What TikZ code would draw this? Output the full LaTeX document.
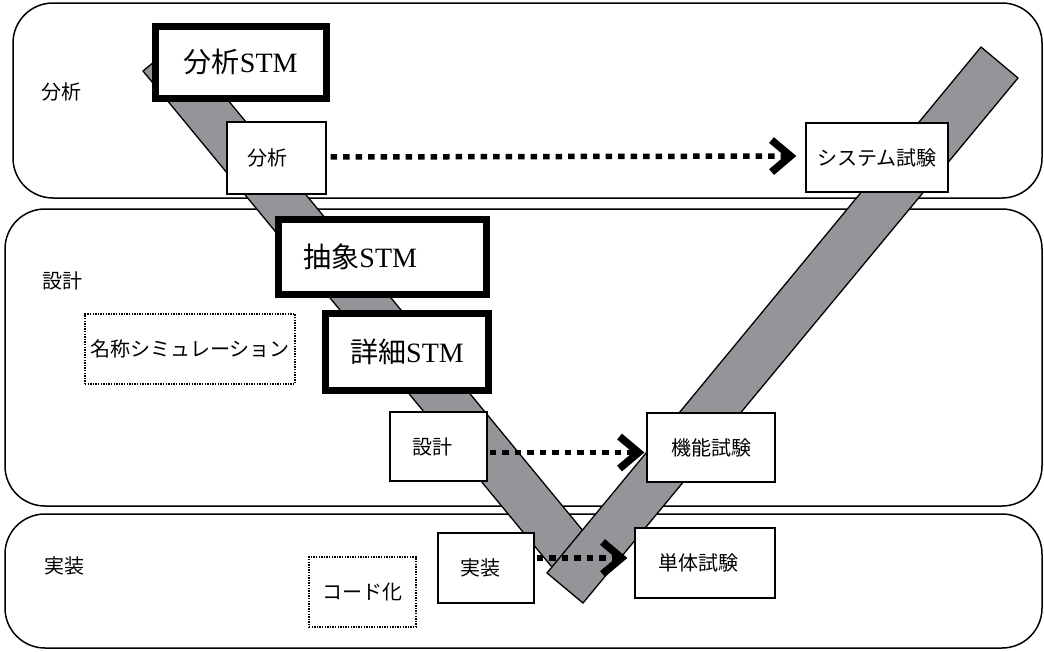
\documentclass[tikz,border=0pt]{standalone}
\usepackage{fontspec}
\setmainfont{Liberation Serif}
\newfontfamily\cjk{Noto Sans CJK JP}
\usetikzlibrary{arrows.meta}
\newcommand\J[1]{{\cjk #1}}
\definecolor{band}{RGB}{147,149,152}
\begin{document}
\begin{tikzpicture}[x=1pt,y=-1pt,
  panel/.style={draw, line width=1.5pt, rounded corners=40pt, fill=white},
  arm/.style={draw, line width=1.3pt, fill=band, line join=miter},
  thickbox/.style={draw, line width=7pt, fill=white, inner sep=0pt, font=\fontsize{28}{30}\selectfont},
  box/.style={draw, line width=1.3pt, fill=white, inner sep=0pt, font=\fontsize{20}{22}\selectfont},
  dotbox/.style={draw, line width=1.4pt, dash pattern=on 1.4pt off 1.2pt, fill=white, inner sep=0pt, font=\fontsize{20}{22}\selectfont},
  plabel/.style={font=\fontsize{20}{22}\selectfont},
  flow/.style={line width=5.5pt, dash pattern=on 6.5pt off 6pt, -{Straight Barb[length=19pt,width=32pt,line width=7.5pt]}}
]
\useasboundingbox (0,0) rectangle (1044,651);
\fill[white] (0,0) rectangle (1044,651);
% panels
\draw[panel] (13,3) rectangle (1042,198);
\draw[panel] (5,209) rectangle (1042,506);
\draw[panel] (5,514) rectangle (1042,648);
\node[plabel] (lA) at (61,92) {\J{分析}};
\node[plabel] (lD) at (62,281) {\J{設計}};
\node[plabel] (lI) at (64,566) {\J{実装}};
% V arms
\draw[arm] (143,71) -- (179.3,41.1) -- (595.9,546.5) -- (559.6,576.4) -- cycle;
\draw[arm] (547,573) -- (583,603) -- (1018,78) -- (981,47) -- cycle;
% STM boxes
\node[thickbox, minimum width=170.5pt, minimum height=71.5pt] (stmA) at (240.75,62.25) {\J{分析}STM};
\node[thickbox, minimum width=207.5pt, minimum height=75pt] (stmB) at (382.25,257) {\hspace*{-44pt}\J{抽象}STM};
\node[thickbox, minimum width=163pt, minimum height=77pt] (stmC) at (407,352) {\J{詳細}STM};
% process boxes
\node[box, minimum width=99pt, minimum height=72pt] (ana) at (276.5,158) {\hspace*{-18pt}\J{分析}};
\node[box, minimum width=142pt, minimum height=69pt] (sys) at (877,157.5) {\J{システム試験}};
\node[box, minimum width=97pt, minimum height=69pt] (des) at (438.5,446.5) {\hspace*{-12pt}\J{設計}};
\node[box, minimum width=128pt, minimum height=69pt] (fun) at (711,447.5) {\J{機能試験}};
\node[box, minimum width=96pt, minimum height=70pt] (imp) at (486,568) {\hspace*{-12pt}\J{実装}};
\node[box, minimum width=140pt, minimum height=70pt] (uni) at (705,563) {\hspace*{-14pt}\J{単体試験}};
\node[dotbox, minimum width=210pt, minimum height=70pt] (sim) at (190,349) {\J{名称シミュレーション}};
\node[dotbox, minimum width=107pt, minimum height=70pt] (cod) at (362.5,592) {\J{コード化}};
% arrows
\draw[flow, shorten <=4pt, shorten >=9pt] ([yshift=1pt]ana.east) -- ([yshift=1.5pt]sys.west);
\draw[flow, shorten <=2pt, shorten >=2pt] ([yshift=-6pt]des.east) -- ([yshift=-5pt]fun.west);
\draw[flow, shorten <=2pt, shorten >=7pt] ([yshift=10pt]imp.east) -- ([yshift=5pt]uni.west);
\end{tikzpicture}
\end{document}
